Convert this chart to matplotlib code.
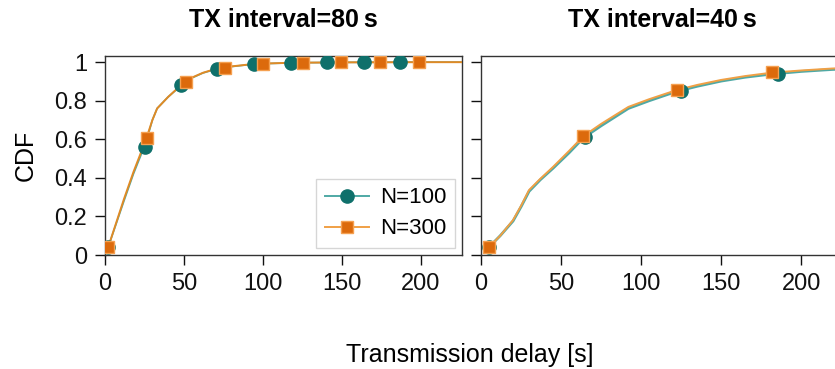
import matplotlib
matplotlib.use("Agg")
import matplotlib.pyplot as plt
from matplotlib.lines import Line2D

plt.rcParams['font.family'] = ['Liberation Sans', 'DejaVu Sans']

# ---- data ----
# TX interval = 80 s
curve80_x = [2, 12, 18, 26, 30, 33, 40, 48, 55, 62, 70, 80, 90, 100, 120, 150, 200, 230]
curve80_n100_y = [0.04, 0.28, 0.42, 0.585, 0.70, 0.76, 0.82, 0.877, 0.918, 0.944, 0.963, 0.977, 0.986, 0.992, 0.997, 0.999, 1.0, 1.0]
curve80_n300_y = [0.04, 0.29, 0.43, 0.60, 0.70, 0.76, 0.82, 0.88, 0.92, 0.945, 0.965, 0.978, 0.987, 0.993, 0.997, 0.999, 1.0, 1.0]
mark80_n100_x = [2.1, 25.4, 48.1, 70.9, 94.2, 117.5, 140.8, 164.1, 187.0]
mark80_n100_y = [0.04, 0.56, 0.881, 0.964, 0.99, 0.996, 1.0, 1.0, 1.0]
mark80_n300_x = [2.1, 26.9, 51.4, 75.7, 100.1, 125.1, 149.7, 174.2, 199.0]
mark80_n300_y = [0.04, 0.605, 0.898, 0.971, 0.99, 0.997, 1.0, 1.0, 1.0]

# TX interval = 40 s
curve40_x = [4.9, 12, 20, 25, 30, 37, 45, 55, 64, 75, 92, 105, 122, 135, 150, 165, 181, 200, 219, 230]
curve40_n100_y = [0.04, 0.10, 0.176, 0.25, 0.33, 0.39, 0.45, 0.53, 0.608, 0.67, 0.76, 0.80, 0.848, 0.875, 0.902, 0.922, 0.938, 0.952, 0.962, 0.966]
curve40_n300_y = [0.04, 0.10, 0.181, 0.255, 0.337, 0.395, 0.457, 0.54, 0.617, 0.68, 0.768, 0.808, 0.855, 0.882, 0.908, 0.928, 0.945, 0.957, 0.967, 0.971]
mark40_n100_x = [4.9, 65.2, 124.9, 185.2]
mark40_n100_y = [0.04, 0.613, 0.851, 0.941]
mark40_n300_x = [4.9, 63.8, 122.4, 181.5]
mark40_n300_y = [0.04, 0.617, 0.855, 0.947]

series_labels = ['N=100', 'N=300']
titles = ['TX interval=80\u2009s', 'TX interval=40\u2009s']
yticks = [0, 0.2, 0.4, 0.6, 0.8, 1]
ytick_labels = ['0', '0.2', '0.4', '0.6', '0.8', '1']
xticks = [0, 50, 100, 150, 200]

# ---- styles ----
teal_line = '#4fa9a5'
teal_mark = '#0f706b'
orange_line = '#f0a045'
orange_line_dark = '#e08a25'
orange_mark = '#dc6a0c'
orange_edge = '#f5a050'

fig = plt.figure(figsize=(8.35, 3.69), dpi=100)
W, H = 835, 369
ax1 = fig.add_axes([105 / W, 1 - 255 / H, 357 / W, 199 / H])
ax2 = fig.add_axes([481 / W, 1 - 255 / H, 362 / W, 199 / H])

panels = [
    (ax1, curve80_x, curve80_n100_y, curve80_n300_y, mark80_n100_x, mark80_n100_y, mark80_n300_x, mark80_n300_y, orange_line_dark),
    (ax2, curve40_x, curve40_n100_y, curve40_n300_y, mark40_n100_x, mark40_n100_y, mark40_n300_x, mark40_n300_y, orange_line),
]

for i, (ax, cx, c1, c3, m1x, m1y, m3x, m3y, ocol) in enumerate(panels):
    ax.plot(cx, c1, color=teal_line, lw=2.0 if i == 1 else 1.2, zorder=2)
    ax.plot(cx, c3, color=ocol, lw=1.4, zorder=3)
    ax.plot(m1x, m1y, 'o', color=teal_mark, ms=9.5, mec=teal_mark, zorder=4)
    ax.plot(m3x, m3y, 's', color=orange_mark, ms=8.5, mec=orange_edge, mew=1.0, zorder=5)
    ax.set_xlim(0, 226)
    ax.set_ylim(0, 1.032)
    ax.set_xticks(xticks)
    ax.set_yticks(yticks)
    ax.tick_params(direction='out', length=7, width=1.0, labelsize=17, colors='#111111', pad=6)
    ax.set_title(titles[i], fontsize=18, fontweight='bold', pad=21)
    for sp in ax.spines.values():
        sp.set_color('#333333')
        sp.set_linewidth(1.0)

ax1.set_yticklabels(ytick_labels)
ax2.set_yticklabels([])
ax1.set_ylabel('CDF', fontsize=18, labelpad=12)

handles = [
    Line2D([], [], color=teal_line, lw=1.4, marker='o', ms=9.5, mfc=teal_mark, mec=teal_mark),
    Line2D([], [], color=orange_line, lw=1.4, marker='s', ms=8.5, mfc=orange_mark, mec=orange_edge),
]
leg = ax1.legend(handles, series_labels, loc='lower right', fontsize=16, fancybox=False,
                 edgecolor='#cccccc', handlelength=2.0, handletextpad=0.5,
                 borderaxespad=0.3, labelspacing=0.45)
leg.get_frame().set_linewidth(1.0)

fig.text(470 / W, 1 - 355 / H, 'Transmission delay [s]', fontsize=18, ha='center', va='center')

fig.savefig('out.png', dpi=100)
